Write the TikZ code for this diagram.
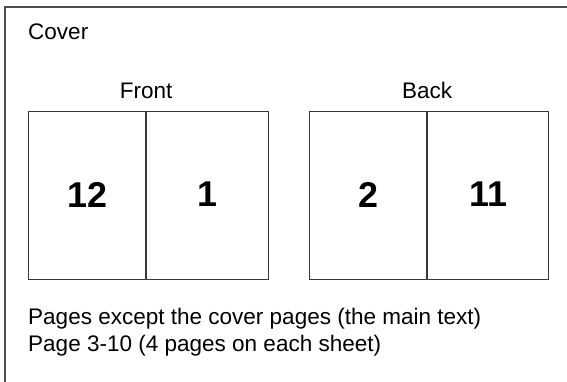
\documentclass[tikz,border=0pt]{standalone}
\usepackage{fontspec}
\setmainfont{Liberation Sans}
\usepackage{tikz}
\usetikzlibrary{positioning}

\tikzset{
  sheet/.style={draw=black!78, line width=1.1bp, inner sep=0pt, anchor=north west,
    minimum height=168bp, font=\fontsize{36}{40}\selectfont\bfseries},
  caption/.style={inner sep=0pt, font=\fontsize{22.6}{26}\selectfont},
}

\begin{document}
\begin{tikzpicture}[x=1bp,y=-1bp]
\useasboundingbox (0,0) rectangle (567,381);
% outer frame, runs off the right and bottom edges
\draw[draw=black!70, line width=1.1bp] (600,7) -- (5,7) -- (5,400);
\node[caption, anchor=base west] (cover) at (28,39) {Cover};
% front side of the cover sheet
\node[sheet, minimum width=117bp] (p12) at (28,111) {\raisebox{2pt}{12}};
\node[sheet, minimum width=122bp] (p1) at (p12.north east) {\raisebox{2pt}{1}};
\node[caption, above=12bp of p12.north east] (front) {Front};
% back side
\node[sheet, minimum width=117bp] (p2) at (309,111) {\raisebox{2pt}{2}};
\node[sheet, minimum width=121bp] (p11) at (p2.north east) {\raisebox{2pt}{11}};
\node[caption, above=12bp of p2.north east] (back) {Back};
\node[caption, anchor=base west] (maintext) at (28,324) {Pages except the cover pages (the main text)};
\node[caption, anchor=base west] (pagerange) at (28,351) {Page 3-10 (4 pages on each sheet)};
\end{tikzpicture}
\end{document}
